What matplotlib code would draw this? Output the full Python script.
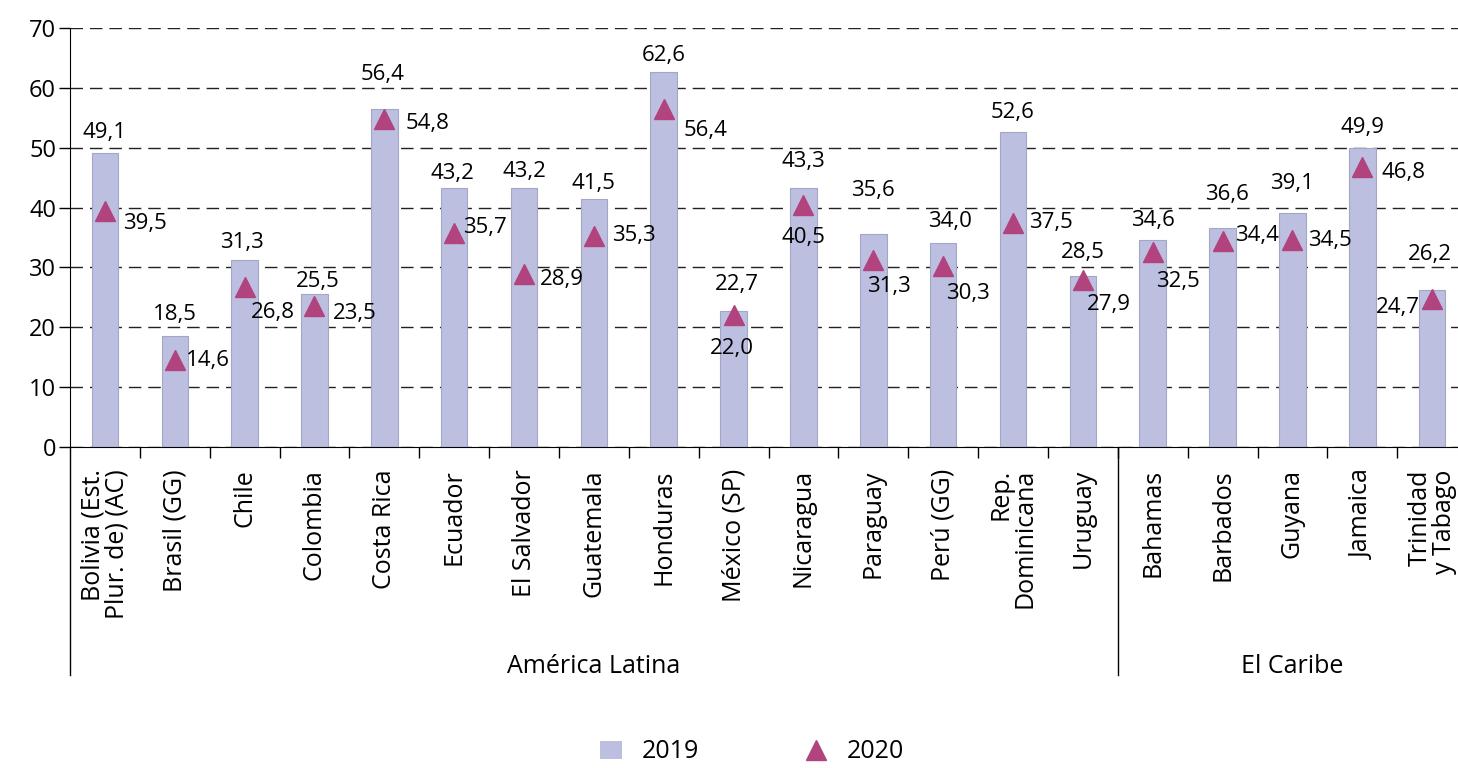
import numpy as np
import matplotlib.pyplot as plt
from matplotlib.lines import Line2D
from matplotlib.patches import Patch
import matplotlib.transforms as mtransforms

plt.rcParams['font.family'] = ['Open Sans', 'DejaVu Sans']

countries = [
    'Bolivia (Est.\nPlur. de) (AC)', 'Brasil (GG)', 'Chile', 'Colombia',
    'Costa Rica', 'Ecuador', 'El Salvador', 'Guatemala', 'Honduras',
    'México (SP)', 'Nicaragua', 'Paraguay', 'Perú (GG)', 'Rep.\nDominicana',
    'Uruguay', 'Bahamas', 'Barbados', 'Guyana', 'Jamaica',
    'Trinidad\ny Tabago',
]
v2019 = [49.1, 18.5, 31.3, 25.5, 56.4, 43.2, 43.2, 41.5, 62.6, 22.7,
         43.3, 35.6, 34.0, 52.6, 28.5, 34.6, 36.6, 39.1, 49.9, 26.2]
v2020 = [39.5, 14.6, 26.8, 23.5, 54.8, 35.7, 28.9, 35.3, 56.4, 22.0,
         40.5, 31.3, 30.3, 37.5, 27.9, 32.5, 34.4, 34.5, 46.8, 24.7]
groups = [('América Latina', 0, 14), ('El Caribe', 15, 19)]

# label offsets in points (placement only)
off19 = [(0, 15), (0, 16), (-2, 12), (2, 9), (-1, 25), (-1, 11), (0, 12),
         (0, 11), (0, 12), (2, 19), (0, 19), (0, 31), (5, 16), (0, 14),
         (0, 17), (0, 14), (3, 24), (0, 21), (0, 15), (-2, 26)]
off20 = [(29, -9), (24, -1), (20, -19), (29, -5), (31, -3), (22, 4), (27, -4),
         (29, 0), (30, -15), (-1, -24), (0, -24), (11, -19), (18, -20),
         (27, 0), (19, -18), (18, -21), (25, 4), (27, 0), (30, -4), (-25, -6)]

bar_color = '#BCBFE0'
tri_color = '#B1437E'

fig = plt.figure(figsize=(14.58, 7.68), dpi=100)
ax = fig.add_axes([70 / 1458, 1 - 447 / 768, 1388 / 1458, (447 - 28) / 768])

x = np.arange(len(countries))
ax.bar(x, v2019, width=0.38, color=bar_color, edgecolor='#A3A6C4',
       linewidth=0.8, zorder=2, label='2019')
ax.plot(x, v2020, linestyle='none', marker='^', markersize=14,
        color=tri_color, zorder=3, label='2020')

for i in range(len(x)):
    ax.annotate(f'{v2019[i]:.1f}'.replace('.', ','), (x[i], v2019[i]),
                xytext=off19[i], textcoords='offset points',
                ha='center', va='center', fontsize=16, zorder=4)
    ax.annotate(f'{v2020[i]:.1f}'.replace('.', ','), (x[i], v2020[i]),
                xytext=off20[i], textcoords='offset points',
                ha='center', va='center', fontsize=16, zorder=4)

ax.set_xlim(-0.5, 19.37)
ax.set_ylim(0, 70)
ax.set_yticks(np.arange(0, 71, 10))
ax.tick_params(axis='y', labelsize=17, length=8, width=1, direction='out',
               pad=2)
ax.yaxis.grid(True, linestyle=(0, (9, 5)), color='#222222', linewidth=1)
ax.set_axisbelow(True)
for s in ['top', 'right']:
    ax.spines[s].set_visible(False)

ax.set_xticks(x)
ax.set_xticklabels(countries, rotation=90, fontsize=18, va='top',
                   ha='center', multialignment='right', linespacing=0.95)
ax.tick_params(axis='x', length=0, pad=16)
ax.set_xticks(np.arange(0.5, 19, 1), minor=True)
ax.tick_params(axis='x', which='minor', length=8, width=1)

trans = mtransforms.blended_transform_factory(ax.transData, ax.transAxes)
for name, a, b in groups:
    ax.add_line(Line2D([a - 0.5, a - 0.5], [0, -0.545], transform=trans,
                       color='black', linewidth=1, clip_on=False))
    ax.text((a + b) / 2, -0.525, name, transform=trans, ha='center',
            va='center', fontsize=18)

handles = [Patch(facecolor=bar_color, edgecolor='none', label='2019'),
           Line2D([], [], linestyle='none', marker='^', markersize=14,
                  color=tri_color, label='2020')]
fig.legend(handles=handles, loc='center', ncol=2, frameon=False,
           fontsize=18, bbox_to_anchor=(752 / 1458, 1 - 752 / 768),
           columnspacing=4.2, handlelength=0.9, handletextpad=0.8)

fig.savefig('out.png', dpi=100)
